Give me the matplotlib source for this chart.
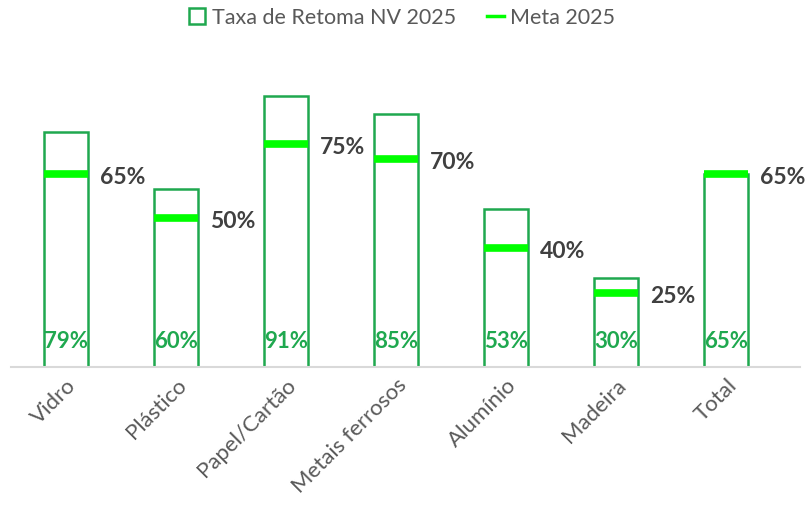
import numpy as np
import matplotlib.pyplot as plt
from matplotlib.lines import Line2D

plt.rcParams['font.family'] = ['Lato', 'DejaVu Sans']

categorias = ['Vidro', 'Plástico', 'Papel/Cartão', 'Metais ferrosos',
              'Alumínio', 'Madeira', 'Total']
taxa = [79, 60, 91, 85, 53, 30, 65]
meta = [65, 50, 75, 70, 40, 25, 65]

verde = '#1FA84F'
verde_meta = '#00FF00'
cinza = '#404040'

fig = plt.figure(figsize=(8.08, 5.12), dpi=100)
ax = fig.add_axes([11 / 808, (512 - 367) / 512, (800 - 11) / 808, 300 / 512])

x = np.arange(len(categorias))
w = 0.4
ax.bar(x, taxa, width=w, facecolor='white', edgecolor=verde, linewidth=1.8, zorder=2)
ax.hlines(meta, x - w / 2, x + w / 2, colors=verde_meta, linewidth=5.5, zorder=3)

for xi, t, m in zip(x, taxa, meta):
    ax.text(xi, 8.5, '{}%'.format(t), ha='center', va='center', color=verde,
            fontsize=16, fontweight='bold', zorder=4)
    ax.text(xi + w / 2 + 0.11, m - 1.2, '{}%'.format(m), ha='left', va='center',
            color=cinza, fontsize=16.5, fontweight='bold')

ax.set_xlim(-0.5, 6.67)
ax.set_ylim(0, 300 / 2.975)
ax.set_xticks(x)
ax.set_xticklabels(categorias, rotation=45, ha='right', rotation_mode='anchor',
                   color='#595959', fontsize=16)
ax.tick_params(axis='x', length=0, pad=6)
ax.set_yticks([])
for s in ['top', 'right', 'left']:
    ax.spines[s].set_visible(False)
ax.spines['bottom'].set_color('#D9D9D9')
ax.spines['bottom'].set_linewidth(1.5)

handles = [
    Line2D([], [], marker='s', linestyle='none', markersize=11,
           markerfacecolor='white', markeredgecolor=verde, markeredgewidth=1.8),
    Line2D([], [], color=verde_meta, linewidth=2.5),
]
fig.legend(handles, ['Taxa de Retoma NV 2025', 'Meta 2025'], loc='center',
           bbox_to_anchor=(402 / 808, 1 - 18 / 512), ncol=2, frameon=False,
           fontsize=15.5, labelcolor='#595959', handlelength=0.8,
           handletextpad=0.3, columnspacing=1.4)

fig.savefig('out.png', dpi=100)
